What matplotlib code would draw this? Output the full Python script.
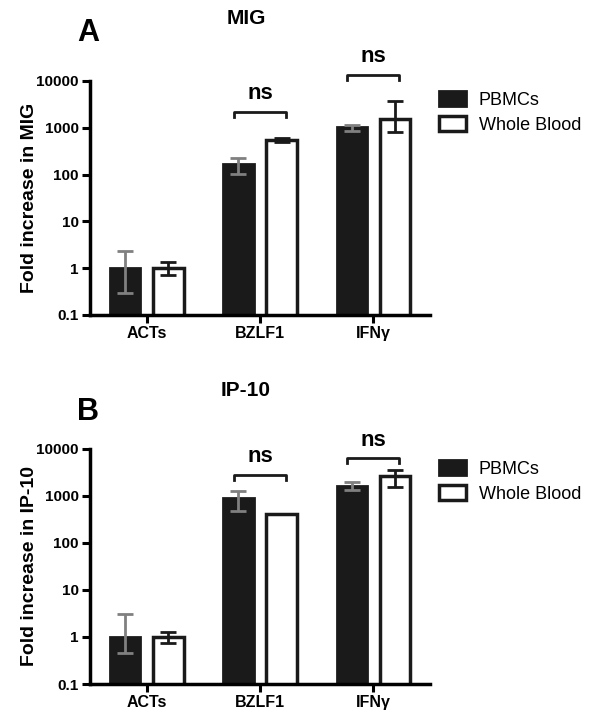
import numpy as np
import matplotlib
matplotlib.use('Agg')
import matplotlib.pyplot as plt
from matplotlib.patches import Patch

plt.rcParams['font.family'] = ['Liberation Sans', 'DejaVu Sans']

categories = ['ACTs', 'BZLF1', 'IFNγ']
series = ['PBMCs', 'Whole Blood']

# panel A - MIG
mig_pbmc = [1.0, 166, 1050]
mig_pbmc_lo = [0.3, 105, 870]
mig_pbmc_hi = [2.3, 222, 1120]
mig_wb = [1.0, 540, 1570]
mig_wb_lo = [0.72, 490, 810]
mig_wb_hi = [1.35, 600, 3720]
mig_brackets = [2200, 13500]   # bracket heights for BZLF1, IFNg

# panel B - IP-10
ip10_pbmc = [1.0, 910, 1670]
ip10_pbmc_lo = [0.46, 480, 1350]
ip10_pbmc_hi = [3.1, 1250, 1960]
ip10_wb = [1.0, 420, 2720]
ip10_wb_lo = [0.76, 420, 1550]
ip10_wb_hi = [1.28, 420, 3500]
ip10_brackets = [2800, 6400]

yticks = [0.1, 1, 10, 100, 1000, 10000]
ytick_labels = ['0.1', '1', '10', '100', '1000', '10000']

fig = plt.figure(figsize=(6, 7.2), dpi=100)


def panel(rect, ylabel, pb, pb_lo, pb_hi, wb, wb_lo, wb_hi, brackets):
    ax = fig.add_axes(rect)
    x = np.arange(len(categories))
    off = 0.19
    w = 0.27
    pb = np.array(pb); wb = np.array(wb)
    ax.bar(x - off, pb, w, color='#1a1a1a', edgecolor='#1a1a1a', linewidth=2, zorder=2)
    ax.bar(x + off, wb, w, color='white', edgecolor='#1a1a1a', linewidth=2.5, zorder=2)
    ax.errorbar(x - off, pb, yerr=[pb - np.array(pb_lo), np.array(pb_hi) - pb],
                fmt='none', ecolor='#808080', elinewidth=2, capsize=5.5, capthick=2, zorder=3)
    wb_err = [wb - np.array(wb_lo), np.array(wb_hi) - wb]
    ax.errorbar(x + off, wb, yerr=wb_err, fmt='none', ecolor='#1a1a1a',
                elinewidth=2, capsize=5.5, capthick=2, zorder=3)
    ax.set_yscale('log')
    ax.set_ylim(0.1, 10000)
    ax.set_xlim(-0.5, 2.5)
    ax.set_yticks(yticks)
    ax.set_yticklabels(ytick_labels, fontweight='bold', fontsize=11)
    ax.minorticks_off()
    ax.set_xticks(x)
    ax.set_xticklabels(categories, fontweight='bold', fontsize=11.5)
    ax.tick_params(width=2.2, length=6, direction='out', pad=2)
    for s in ['top', 'right']:
        ax.spines[s].set_visible(False)
    for s in ['left', 'bottom']:
        ax.spines[s].set_linewidth(2.5)
    ax.set_ylabel(ylabel, fontweight='bold', fontsize=14, labelpad=-1)
    # significance brackets
    for xi, by in zip(x[1:], brackets):
        ax.plot([xi - 0.23, xi - 0.23, xi + 0.23, xi + 0.23],
                [by * 0.78, by, by, by * 0.78], color='#1a1a1a', lw=2,
                clip_on=False, zorder=4)
        ax.text(xi, by * 1.45, 'ns', ha='center', va='bottom', fontsize=16,
                fontweight='bold', clip_on=False)
    return ax


axA = panel([0.15, 0.5625, 0.5667, 0.325], 'Fold increase in MIG',
            mig_pbmc, mig_pbmc_lo, mig_pbmc_hi, mig_wb, mig_wb_lo, mig_wb_hi, mig_brackets)
axB = panel([0.15, 0.05, 0.5667, 0.3264], 'Fold increase in IP-10',
            ip10_pbmc, ip10_pbmc_lo, ip10_pbmc_hi, ip10_wb, ip10_wb_lo, ip10_wb_hi, ip10_brackets)

fig.text(246 / 600, 1 - 19 / 720, 'MIG', ha='center', va='center', fontsize=15, fontweight='bold')
fig.text(88 / 600, 1 - 33 / 720, 'A', ha='center', va='center', fontsize=22, fontweight='bold')
fig.text(246 / 600, 1 - 390 / 720, 'IP-10', ha='center', va='center', fontsize=15, fontweight='bold')
fig.text(88 / 600, 1 - 412 / 720, 'B', ha='center', va='center', fontsize=22, fontweight='bold')

handles = [Patch(facecolor='#1a1a1a', edgecolor='#1a1a1a', linewidth=2),
           Patch(facecolor='white', edgecolor='#1a1a1a', linewidth=2.5)]
for ytop in [1 - 84 / 720, 1 - 453 / 720]:
    fig.legend(handles, series, loc='upper left', bbox_to_anchor=(432 / 600, ytop),
               frameon=False, fontsize=13, handlelength=1.5, handleheight=0.9,
               handletextpad=0.7, labelspacing=0.4, borderaxespad=0)

fig.savefig('out.png', dpi=100)
